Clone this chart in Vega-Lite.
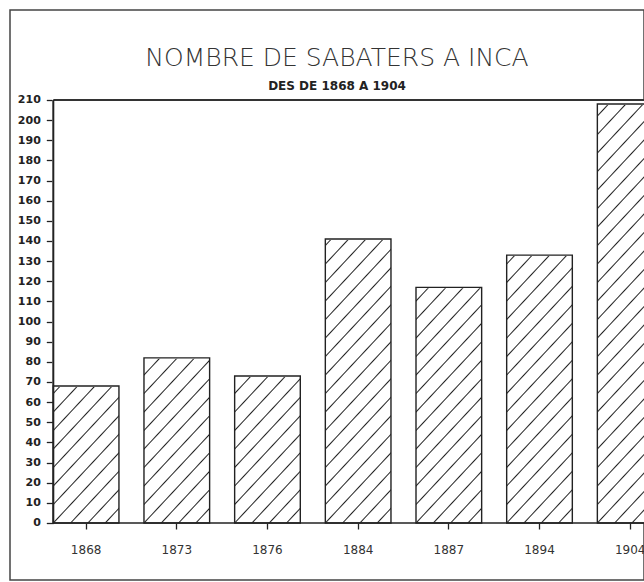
{
  "$schema": "https://vega.github.io/schema/vega-lite/v6.json",
  "autosize": {"type": "none"},
  "padding": {"left": 10, "top": 10, "right": 0, "bottom": 2},
  "width": 634,
  "height": 570,
  "background": "#ffffff",
  "config": {
    "view": {"stroke": "#444444", "strokeWidth": 1.5},
    "font": "DejaVu Sans",
    "axisY": {
      "domain": false, "grid": false, "tickSize": 7, "tickColor": "#222222", "tickWidth": 1.3,
      "labelFont": "DejaVu Sans", "labelFontSize": 11, "labelFontWeight": "bold", "labelColor": "#222222",
      "labelPadding": 6, "labelOverlap": false, "offset": -43.3
    },
    "axisX": {
      "domain": false, "grid": false, "tickSize": 6, "tickColor": "#222222", "tickWidth": 1.3,
      "labelFont": "DejaVu Sans", "labelFontSize": 12, "labelColor": "#333333",
      "labelPadding": 15, "labelAngle": 0, "offset": -57
    }
  },
  "title": {
    "text": "NOMBRE DE SABATERS A INCA",
    "subtitle": "DES DE 1868 A 1904",
    "anchor": "middle",
    "frame": "group",
    "offset": -82,
    "dx": 10,
    "font": "DejaVu Sans",
    "fontSize": 25,
    "fontWeight": 200,
    "color": "#333333",
    "subtitleFont": "DejaVu Sans",
    "subtitleFontSize": 12,
    "subtitleFontWeight": "bold",
    "subtitleColor": "#222222",
    "subtitlePadding": 10
  },
  "data": {
    "values": [
      {"year": "1868", "count": 68},
      {"year": "1873", "count": 82},
      {"year": "1876", "count": 73},
      {"year": "1884", "count": 141},
      {"year": "1887", "count": 117},
      {"year": "1894", "count": 133},
      {"year": "1904", "count": 208}
    ]
  },
  "layer": [
    {
      "mark": {
        "type": "bar",
        "stroke": null,
        "fill": {
          "gradient": "linear",
          "x1": 0, "y1": 0, "x2": 0.1883, "y2": 1.1347,
          "stops": [
            {"offset": 0.0295, "color": "#ffffff"}, {"offset": 0.0325, "color": "#222222"}, {"offset": 0.0355, "color": "#ffffff"},
            {"offset": 0.0670, "color": "#ffffff"}, {"offset": 0.0700, "color": "#222222"}, {"offset": 0.0730, "color": "#ffffff"},
            {"offset": 0.1045, "color": "#ffffff"}, {"offset": 0.1075, "color": "#222222"}, {"offset": 0.1105, "color": "#ffffff"},
            {"offset": 0.1420, "color": "#ffffff"}, {"offset": 0.1450, "color": "#222222"}, {"offset": 0.1480, "color": "#ffffff"},
            {"offset": 0.1795, "color": "#ffffff"}, {"offset": 0.1825, "color": "#222222"}, {"offset": 0.1855, "color": "#ffffff"},
            {"offset": 0.2170, "color": "#ffffff"}, {"offset": 0.2200, "color": "#222222"}, {"offset": 0.2230, "color": "#ffffff"},
            {"offset": 0.2545, "color": "#ffffff"}, {"offset": 0.2575, "color": "#222222"}, {"offset": 0.2605, "color": "#ffffff"},
            {"offset": 0.2920, "color": "#ffffff"}, {"offset": 0.2950, "color": "#222222"}, {"offset": 0.2980, "color": "#ffffff"},
            {"offset": 0.3295, "color": "#ffffff"}, {"offset": 0.3325, "color": "#222222"}, {"offset": 0.3355, "color": "#ffffff"},
            {"offset": 0.3670, "color": "#ffffff"}, {"offset": 0.3700, "color": "#222222"}, {"offset": 0.3730, "color": "#ffffff"},
            {"offset": 0.4046, "color": "#ffffff"}, {"offset": 0.4076, "color": "#222222"}, {"offset": 0.4106, "color": "#ffffff"},
            {"offset": 0.4421, "color": "#ffffff"}, {"offset": 0.4451, "color": "#222222"}, {"offset": 0.4481, "color": "#ffffff"},
            {"offset": 0.4796, "color": "#ffffff"}, {"offset": 0.4826, "color": "#222222"}, {"offset": 0.4856, "color": "#ffffff"},
            {"offset": 0.5171, "color": "#ffffff"}, {"offset": 0.5201, "color": "#222222"}, {"offset": 0.5231, "color": "#ffffff"},
            {"offset": 0.5546, "color": "#ffffff"}, {"offset": 0.5576, "color": "#222222"}, {"offset": 0.5606, "color": "#ffffff"},
            {"offset": 0.5921, "color": "#ffffff"}, {"offset": 0.5951, "color": "#222222"}, {"offset": 0.5981, "color": "#ffffff"},
            {"offset": 0.6296, "color": "#ffffff"}, {"offset": 0.6326, "color": "#222222"}, {"offset": 0.6356, "color": "#ffffff"},
            {"offset": 0.6671, "color": "#ffffff"}, {"offset": 0.6701, "color": "#222222"}, {"offset": 0.6731, "color": "#ffffff"},
            {"offset": 0.7046, "color": "#ffffff"}, {"offset": 0.7076, "color": "#222222"}, {"offset": 0.7106, "color": "#ffffff"},
            {"offset": 0.7421, "color": "#ffffff"}, {"offset": 0.7451, "color": "#222222"}, {"offset": 0.7481, "color": "#ffffff"},
            {"offset": 0.7796, "color": "#ffffff"}, {"offset": 0.7826, "color": "#222222"}, {"offset": 0.7856, "color": "#ffffff"},
            {"offset": 0.8171, "color": "#ffffff"}, {"offset": 0.8201, "color": "#222222"}, {"offset": 0.8231, "color": "#ffffff"},
            {"offset": 0.8547, "color": "#ffffff"}, {"offset": 0.8577, "color": "#222222"}, {"offset": 0.8607, "color": "#ffffff"},
            {"offset": 0.8922, "color": "#ffffff"}, {"offset": 0.8952, "color": "#222222"}, {"offset": 0.8982, "color": "#ffffff"},
            {"offset": 0.9297, "color": "#ffffff"}, {"offset": 0.9327, "color": "#222222"}, {"offset": 0.9357, "color": "#ffffff"},
            {"offset": 0.9672, "color": "#ffffff"}, {"offset": 0.9702, "color": "#222222"}, {"offset": 0.9732, "color": "#ffffff"}
          ]
        }
      },
      "encoding": {
        "x": {
          "field": "year", "type": "nominal", "sort": null, "title": null,
          "scale": {"range": [43.3, 653], "paddingInner": 0.276, "paddingOuter": 0}
        },
        "y": {
          "datum": 210, "type": "quantitative", "title": null,
          "scale": {"domain": [-28.3, 254.68], "nice": false, "zero": false},
          "axis": {"values": [0, 10, 20, 30, 40, 50, 60, 70, 80, 90, 100, 110, 120, 130, 140, 150, 160, 170, 180, 190, 200, 210]}
        },
        "y2": {"datum": 0}
      }
    },
    {
      "mark": {"type": "bar", "fill": "#ffffff", "stroke": "#ffffff", "strokeWidth": 2},
      "encoding": {
        "x": {"field": "year", "type": "nominal", "sort": null, "title": null},
        "y": {
          "field": "count", "type": "quantitative", "title": null,
          "axis": {"values": [0, 10, 20, 30, 40, 50, 60, 70, 80, 90, 100, 110, 120, 130, 140, 150, 160, 170, 180, 190, 200, 210]}
        },
        "y2": {"datum": 210}
      }
    },
    {
      "mark": {"type": "bar", "fill": null, "fillOpacity": 0, "stroke": "#222222", "strokeWidth": 1.4},
      "encoding": {
        "x": {"field": "year", "type": "nominal", "sort": null, "title": null},
        "y": {
          "field": "count", "type": "quantitative", "title": null,
          "axis": {"values": [0, 10, 20, 30, 40, 50, 60, 70, 80, 90, 100, 110, 120, 130, 140, 150, 160, 170, 180, 190, 200, 210]}
        },
        "y2": {"datum": 0}
      }
    },
    {
      "data": {"values": [{}]},
      "mark": {"type": "rule", "color": "#333333", "strokeWidth": 1.8},
      "encoding": {
        "y": {
          "datum": 210, "type": "quantitative", "title": null,
          "axis": {"values": [0, 10, 20, 30, 40, 50, 60, 70, 80, 90, 100, 110, 120, 130, 140, 150, 160, 170, 180, 190, 200, 210]}
        },
        "x": {"datum": "1868", "bandPosition": 0, "title": null},
        "x2": {"datum": "1904", "bandPosition": 1}
      }
    },
    {
      "data": {"values": [{}]},
      "mark": {"type": "rule", "color": "#222222", "strokeWidth": 1.4},
      "encoding": {
        "y": {
          "datum": 0, "type": "quantitative", "title": null,
          "axis": {"values": [0, 10, 20, 30, 40, 50, 60, 70, 80, 90, 100, 110, 120, 130, 140, 150, 160, 170, 180, 190, 200, 210]}
        },
        "x": {"datum": "1868", "bandPosition": 0, "title": null},
        "x2": {"datum": "1904", "bandPosition": 1}
      }
    },
    {
      "data": {"values": [{}]},
      "mark": {"type": "rule", "color": "#222222", "strokeWidth": 2},
      "encoding": {
        "x": {"datum": "1868", "bandPosition": 0, "title": null},
        "y": {
          "datum": 0, "type": "quantitative", "title": null,
          "axis": {"values": [0, 10, 20, 30, 40, 50, 60, 70, 80, 90, 100, 110, 120, 130, 140, 150, 160, 170, 180, 190, 200, 210]}
        },
        "y2": {"datum": 210}
      }
    }
  ]
}
